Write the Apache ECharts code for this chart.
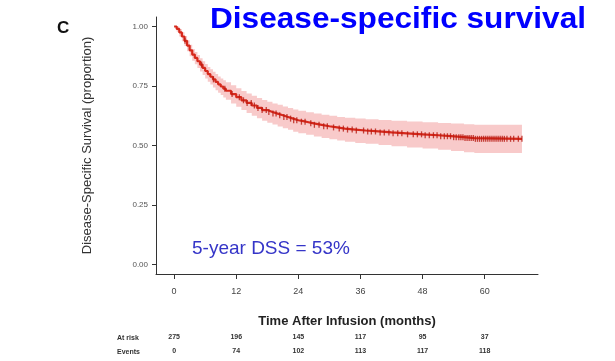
<!DOCTYPE html>
<html><head><meta charset="utf-8">
<script src="https://cdn.jsdelivr.net/npm/echarts@6/dist/echarts.min.js"></script>
<style>html,body{margin:0;padding:0;background:#fff}#c{width:615px;height:361px}</style>
</head><body><div id="c"></div>
<script>
const times = [0,0.5,1,1.5,2,2.5,3,3.5,4,4.5,5,5.5,6,6.5,7,7.5,8,8.5,9,9.5,10,11,12,13,14,15,16,17,18,19,20,21,22,23,24,25.5,27,28.5,30,31.5,33,35,37,39.5,42,45,48,51,53.5,56,58,67.2];
const survival = [1.0,0.99,0.975,0.958,0.94,0.92,0.9,0.882,0.868,0.854,0.84,0.826,0.813,0.8,0.789,0.778,0.767,0.757,0.748,0.739,0.73,0.716,0.703,0.69,0.679,0.668,0.658,0.649,0.641,0.634,0.627,0.62,0.613,0.606,0.6,0.593,0.587,0.581,0.576,0.571,0.567,0.563,0.559,0.555,0.551,0.547,0.543,0.539,0.535,0.531,0.528,0.528];
const upperCI = [1.0,1.0,0.99,0.976,0.96,0.942,0.923,0.906,0.893,0.88,0.867,0.854,0.842,0.83,0.82,0.81,0.8,0.79,0.782,0.774,0.766,0.753,0.741,0.729,0.719,0.709,0.7,0.691,0.684,0.677,0.671,0.664,0.658,0.651,0.646,0.64,0.634,0.629,0.625,0.62,0.617,0.613,0.61,0.607,0.604,0.601,0.598,0.595,0.592,0.589,0.587,0.587];
const lowerCI = [1.0,0.978,0.958,0.938,0.918,0.896,0.875,0.856,0.841,0.826,0.811,0.796,0.782,0.768,0.756,0.744,0.732,0.722,0.712,0.702,0.692,0.677,0.663,0.649,0.637,0.625,0.614,0.604,0.596,0.588,0.58,0.573,0.566,0.558,0.552,0.545,0.538,0.532,0.526,0.521,0.516,0.511,0.507,0.502,0.497,0.492,0.487,0.482,0.477,0.472,0.468,0.468];
const censorTimes = [2.1,5.3,7.6,9.8,11.2,12.6,13.4,14.1,14.9,15.5,16.2,17.0,17.8,18.3,19.1,19.7,20.4,21.2,21.8,22.5,23.1,23.7,24.6,25.3,26.4,27.1,28.0,28.9,29.6,30.8,31.9,32.7,33.5,34.4,35.2,36.6,37.4,38.1,38.9,39.8,40.6,41.5,42.3,43.2,44.0,45.1,46.2,47.0,47.8,48.5,49.3,50.1,50.8,51.5,52.2,52.8,53.4,54.0,54.5,55.0,55.4,55.8,56.2,56.6,57.0,57.4,57.8,58.2,58.6,59.0,59.4,59.8,60.2,60.6,61.0,61.4,61.8,62.2,62.6,63.0,63.4,63.8,64.3,65.0,65.6,66.5,67.2];
const xTicks = [0,12,24,36,48,60];
const yTicks = [0,0.25,0.5,0.75,1];
const atRisk = [275,196,145,117,95,37];
const events = [0,74,102,113,117,118];

function survAt(t){ let v = survival[0]; for (let i=0;i<times.length;i++){ if (times[i] <= t) v = survival[i]; } return v; }

const chart = echarts.init(document.getElementById('c'), null, {renderer:'canvas'});
const FF = '"Liberation Sans", Arial, sans-serif';
const hidden = {show:false};
const xBase = {type:'value', min:-3.5, max:70.3, gridIndex:0, position:'bottom', splitLine:hidden};

function bandItem(params, api){
  const up = [], lo = [];
  for (let i=0;i<times.length;i++){
    const tNext = i < times.length-1 ? times[i+1] : times[i];
    up.push(api.coord([times[i], upperCI[i]]));
    up.push(api.coord([tNext, upperCI[i]]));
    lo.push(api.coord([times[i], lowerCI[i]]));
    lo.push(api.coord([tNext, lowerCI[i]]));
  }
  return {type:'polygon', shape:{points: up.concat(lo.reverse())}, style:{fill:'#f8caca'}, silent:true};
}

chart.setOption({
  animation:false,
  grid:{left:156, top:17, width:382, height:257},
  xAxis:[
    Object.assign({}, xBase, {
      axisLine:{show:true, onZero:false, lineStyle:{color:'#333', width:1}},
      axisTick:{show:true, customValues:xTicks, length:5, lineStyle:{color:'#333'}},
      axisLabel:{customValues:xTicks, fontSize:9, color:'#444', margin:13, fontFamily:FF},
      name:'Time After Infusion (months)', nameLocation:'middle', nameGap:41,
      nameTextStyle:{fontSize:13, fontWeight:'bold', color:'#222', fontFamily:FF}
    }),
    Object.assign({}, xBase, {
      axisLine:hidden, axisTick:hidden,
      axisLabel:{customValues:xTicks, fontSize:7, fontWeight:'bold', color:'#333', margin:60, fontFamily:FF,
        formatter:v=>String(atRisk[xTicks.indexOf(v)])}
    }),
    Object.assign({}, xBase, {
      axisLine:hidden, axisTick:hidden,
      axisLabel:{customValues:xTicks, fontSize:7, fontWeight:'bold', color:'#333', margin:74, fontFamily:FF,
        formatter:v=>String(events[xTicks.indexOf(v)])}
    })
  ],
  yAxis:{type:'value', min:-0.04, max:1.04, splitLine:hidden,
    axisLine:{show:true, onZero:false, lineStyle:{color:'#333', width:1}},
    axisTick:{show:true, customValues:yTicks, length:4, lineStyle:{color:'#333'}},
    axisLabel:{customValues:yTicks, fontSize:8, color:'#555', margin:8, fontFamily:FF, formatter:v=>v.toFixed(2)},
    name:'Disease-Specific Survival (proportion)', nameLocation:'middle', nameGap:62, nameRotate:90,
    nameTextStyle:{fontSize:13, color:'#333', fontFamily:FF}
  },
  series:[
    {type:'custom', renderItem:bandItem, data:[0], silent:true, z:1},
    {type:'line', step:'end', symbol:'none', data:times.map((t,i)=>[t, survival[i]]),
     lineStyle:{color:'#d6281b', width:2.2}, z:3},
    {type:'scatter', symbol:'rect', symbolSize:[1.3,6], data:censorTimes.map(t=>[t, survAt(t)]),
     itemStyle:{color:'#b81a12'}, z:4}
  ],
  graphic:[
    {type:'text', left:57, top:20, style:{text:'C', fontSize:17, fontWeight:'bold', fill:'#111', fontFamily:FF}},
    {type:'text', x:210, y:19.5, scaleX:1.09, z:10, style:{text:'Disease-specific survival', fontSize:29, fontWeight:'bold', fill:'#0000ff', fontFamily:FF, verticalAlign:'middle'}},
    {type:'text', x:192, y:249, z:10, style:{text:'5-year DSS = 53%', fontSize:19, fill:'#3535c8', fontFamily:FF, verticalAlign:'middle'}},
    {type:'text', x:117, y:338, style:{text:'At risk', fontSize:7, fontWeight:'bold', fill:'#333', fontFamily:FF, verticalAlign:'middle'}},
    {type:'text', x:117, y:352, style:{text:'Events', fontSize:7, fontWeight:'bold', fill:'#333', fontFamily:FF, verticalAlign:'middle'}}
  ]
});
</script></body></html>
